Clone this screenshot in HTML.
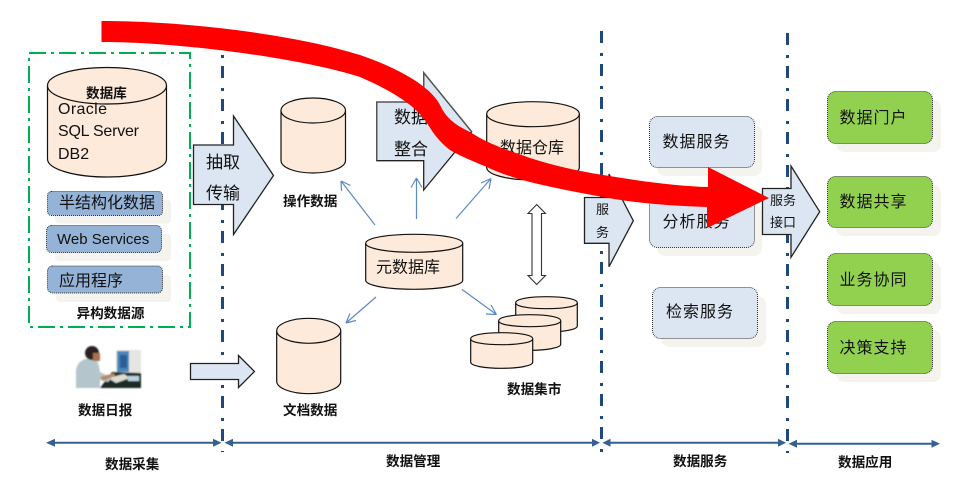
<!DOCTYPE html>
<html><head><meta charset="utf-8">
<style>
html,body{margin:0;padding:0;background:#fff;width:960px;height:481px;overflow:hidden}
svg{display:block}
text{font-family:"Liberation Sans","Noto Sans CJK SC",sans-serif;fill:#111}
.l{font-size:13.6px;font-weight:bold}
.t{font-size:16px}
.s{font-size:16px;letter-spacing:1px}
.a{font-size:17px}
.m{font-size:13px}
.cyl{fill:#fdeada;stroke:#111;stroke-width:1.2}
.arr{fill:#dce6f2;stroke:#222;stroke-width:1.3}
.sep{stroke:#1f497d;stroke-width:3;fill:none;stroke-dasharray:3 8 12 10}
.thin{stroke:#5b8ac5;stroke-width:1.2;fill:none}
.axis{stroke:#376092;stroke-width:2;fill:none}
.ah{fill:#376092}
.sh{fill:#f5f3ee}
.b{fill:#95b3d7;stroke:#333;stroke-width:1;stroke-dasharray:1 1}
.sv{fill:#dce6f2;stroke:#333;stroke-width:1;stroke-dasharray:1 1}
.g{fill:#92d050;stroke:#333;stroke-width:1;stroke-dasharray:1 1}
</style></head>
<body>
<svg width="960" height="481" viewBox="0 0 960 481" xmlns="http://www.w3.org/2000/svg">
<defs><filter id="soft" x="-5%" y="-5%" width="110%" height="110%"><feGaussianBlur stdDeviation="0.7"/></filter></defs>
<rect x="0" y="0" width="960" height="481" fill="#fff"/>

<!-- separators -->
<line class="sep" x1="222.5" y1="55" x2="222.5" y2="452"/>
<line class="sep" x1="601.5" y1="31" x2="601.5" y2="452" stroke-dashoffset="11"/>
<line class="sep" x1="787.5" y1="33" x2="787.5" y2="453" stroke-dashoffset="11"/>

<!-- green dash-dot box -->
<rect x="29" y="53" width="161" height="274" fill="none" stroke="#00b050" stroke-width="2" stroke-dasharray="17 5 3 5"/>

<!-- database cylinder -->
<path class="cyl" d="M47.5 85.5 V159 C47.5 169 74 177 107 177 C140 177 166.5 169 166.5 159 V85.5 C166.5 75 140 67.5 107 67.5 C74 67.5 47.5 75 47.5 85.5 Z"/>
<path class="cyl" d="M47.5 85.5 C47.5 96 74 104 107 104 C140 104 166.5 96 166.5 85.5"/>
<text class="l" x="86" y="98">数据库</text>
<text class="t" x="58" y="114" textLength="49">Oracle</text>
<text class="t" x="58" y="136" textLength="81">SQL Server</text>
<text class="t" x="58" y="159">DB2</text>

<!-- source boxes -->
<rect class="sh" x="55" y="199.5" width="116" height="24" rx="4"/>
<rect class="b" x="47.5" y="191.5" width="115" height="24" rx="4"/>
<text class="t" x="59" y="208">半结构化数据</text>
<rect class="sh" x="55" y="234" width="116" height="27" rx="4"/>
<rect class="b" x="46.5" y="225.5" width="115" height="27" rx="5"/>
<text x="57" y="244" style="font-size:15px">Web Services</text>
<rect class="sh" x="56" y="275" width="115" height="27" rx="4"/>
<rect class="b" x="47.5" y="266" width="115" height="27" rx="5"/>
<text class="t" x="59" y="286">应用程序</text>
<text class="l" x="76.5" y="318">异构数据源</text>

<!-- person picture -->
<g filter="url(#soft)">
<rect x="116" y="350" width="25" height="26" fill="#e6e6e0"/>
<rect x="117" y="351" width="12" height="21" fill="#4a87bb"/>
<rect x="120" y="355" width="7" height="13" fill="#2a5f96"/>
<path d="M100 388 L112 372 L141 373 V388 Z" fill="#1c2a26"/>
<path d="M108 378 L124 374 L130 378 L116 383 Z" fill="#dcdcd4"/>
<rect x="128" y="376" width="11" height="5" fill="#b9d2de"/>
<path d="M76 388 V372 C76 362 84 358 92 358 C97 358 99 364 100 372 L112 378 L108 382 L100 380 V388 Z" fill="#b4c6cc"/>
<circle cx="92" cy="353" r="7" fill="#2a2420"/>
<rect x="93" y="353" width="7" height="8" fill="#a86f4c"/>
<path d="M100 377 L114 373 L115 376 L103 381 Z" fill="#b98a68"/>
</g>
<text class="l" x="78" y="415">数据日报</text>

<!-- lower arrow -->
<path class="arr" d="M190.5 363.5 H238.5 V355.5 L254.5 371.5 L238.5 387.5 V379.5 H190.5 Z"/>

<!-- extraction arrow -->
<path class="arr" d="M193.5 145 H233.5 V116 L273.5 175.5 L233.5 234.5 V204.5 H193.5 Z"/>
<text class="a" x="206" y="168">抽取</text>
<text class="a" x="206" y="199">传输</text>

<!-- operational cylinder -->
<path class="cyl" d="M281 110.5 V160.5 C281 167.5 295 173 313 173 C331 173 345.5 167.5 345.5 160.5 V110.5 C345.5 103.5 331 98 313 98 C295 98 281 103.5 281 110.5 Z"/>
<path class="cyl" d="M281 110.5 C281 117.5 295 123 313 123 C331 123 345.5 117.5 345.5 110.5"/>
<text class="l" x="283" y="206">操作数据</text>

<!-- doc cylinder -->
<path class="cyl" d="M276.7 330.8 V381.2 C276.7 388 291 393.7 308.7 393.7 C326.5 393.7 340.7 388 340.7 381.2 V330.8 C340.7 324 326.5 318.3 308.7 318.3 C291 318.3 276.7 324 276.7 330.8 Z"/>
<path class="cyl" d="M276.7 330.8 C276.7 337.6 291 343.3 308.7 343.3 C326.5 343.3 340.7 337.6 340.7 330.8"/>
<text class="l" x="283" y="415">文档数据</text>

<!-- integration arrow -->
<path class="arr" d="M376.7 102 H423.7 V72.7 L471.7 131.7 L423.7 190 V160.7 H376.7 Z"/>
<path d="M376.7 160.7 V102 H423.7 V72.7 L471.7 131.7" fill="none" stroke="#555" stroke-width="1.3"/>
<text class="a" x="394" y="123">数据</text>
<text class="a" x="394" y="155">整合</text>

<!-- warehouse -->
<path class="cyl" d="M486.7 114 V167.5 C486.7 174.5 507 180 533 180 C559 180 579.3 174.5 579.3 167.5 V114 C579.3 107 559 101.7 533 101.7 C507 101.7 486.7 107 486.7 114 Z"/>
<path class="cyl" d="M486.7 114 C486.7 121 507 126.7 533 126.7 C559 126.7 579.3 121 579.3 114"/>
<text class="t" x="500" y="153">数据仓库</text>

<!-- meta -->
<path class="cyl" d="M365.7 243.3 V280.3 C365.7 285.5 387 289.3 414 289.3 C441 289.3 462.7 285.5 462.7 280.3 V243.3 C462.7 238 441 234.3 414 234.3 C387 234.3 365.7 238 365.7 243.3 Z"/>
<path class="cyl" d="M365.7 243.3 C365.7 248.5 387 252.3 414 252.3 C441 252.3 462.7 248.5 462.7 243.3"/>
<text class="t" x="376" y="272.5">元数据库</text>

<!-- marts -->
<path class="cyl" d="M515.7 302.7 V326 C515.7 329.5 529 332 546.5 332 C564 332 577.3 329.5 577.3 326 V302.7 C577.3 299 564 296.7 546.5 296.7 C529 296.7 515.7 299 515.7 302.7 Z"/>
<path class="cyl" d="M515.7 302.7 C515.7 306.4 529 308.7 546.5 308.7 C564 308.7 577.3 306.4 577.3 302.7"/>
<path class="cyl" d="M498.7 320.7 V344.3 C498.7 347.8 512 350.3 529.7 350.3 C547 350.3 560.7 347.8 560.7 344.3 V320.7 C560.7 317 547 314.7 529.7 314.7 C512 314.7 498.7 317 498.7 320.7 Z"/>
<path class="cyl" d="M498.7 320.7 C498.7 324.4 512 326.7 529.7 326.7 C547 326.7 560.7 324.4 560.7 320.7"/>
<path class="cyl" d="M470.7 338.7 V362.3 C470.7 365.8 484 368.3 501.7 368.3 C519 368.3 532.7 365.8 532.7 362.3 V338.7 C532.7 335 519 332.7 501.7 332.7 C484 332.7 470.7 335 470.7 338.7 Z"/>
<path class="cyl" d="M470.7 338.7 C470.7 342.4 484 344.7 501.7 344.7 C519 344.7 532.7 342.4 532.7 338.7"/>
<text class="l" x="507" y="394">数据集市</text>

<!-- thin blue arrows -->
<path class="thin" d="M375 225 L341 181 M341 181 L341.5 191 M341 181 L350.5 185.5"/>
<path class="thin" d="M416.5 219 V178 M416.5 178 L411 187.5 M416.5 178 L422 187.5"/>
<path class="thin" d="M456 218.5 L491 178.5 M491 178.5 L481 183 M491 178.5 L489 189"/>
<path class="thin" d="M376 297 L346 323 M346 323 L356 320.5 M346 323 L350 313.5"/>
<path class="thin" d="M462 289.5 L496.5 314.5 M496.5 314.5 L491 305 M496.5 314.5 L486 314"/>

<!-- double arrow -->
<path d="M536.7 204.5 L545.5 213.5 H541.5 V275.5 H545.5 L536.7 284.5 L528 275.5 H532 V213.5 H528 Z" fill="#fff" stroke="#333" stroke-width="1.1"/>

<!-- service arrow -->
<path class="arr" d="M584.5 197.5 H609 V174 L633.3 220.7 L609 266.7 V243.3 H584.5 Z"/>
<text class="m" x="596" y="214">服</text>
<text class="m" x="596" y="237">务</text>

<!-- service boxes -->
<rect class="sh" x="657" y="125" width="105" height="51" rx="8"/>
<rect class="sv" x="649.5" y="116.5" width="105" height="51" rx="8"/>
<text class="s" x="662.5" y="147">数据服务</text>
<rect class="sh" x="657" y="205" width="105" height="51" rx="8"/>
<rect class="sv" x="649.5" y="197" width="105" height="50.5" rx="8"/>
<text class="s" x="662.5" y="227">分析服务</text>
<rect class="sh" x="661" y="296" width="105" height="51" rx="8"/>
<rect class="sv" x="652.5" y="287.5" width="105" height="51" rx="8"/>
<text class="s" x="666" y="317">检索服务</text>

<!-- interface arrow -->
<path class="arr" d="M762.5 188.5 H791 V166 L819.7 211.7 L791 257.3 V234.5 H762.5 Z"/>
<text class="m" x="770" y="205">服务</text>
<text class="m" x="770" y="227">接口</text>

<!-- green boxes -->
<rect class="sh" x="836" y="100" width="105" height="52" rx="8"/>
<rect class="g" x="827.5" y="91.5" width="105" height="52" rx="8"/>
<text class="s" x="839.5" y="123">数据门户</text>
<rect class="sh" x="836" y="185" width="105" height="51" rx="8"/>
<rect class="g" x="827.5" y="176.5" width="105" height="51" rx="8"/>
<text class="s" x="839.5" y="207">数据共享</text>
<rect class="sh" x="836" y="262" width="105" height="52" rx="8"/>
<rect class="g" x="827.5" y="253.5" width="105" height="52" rx="8"/>
<text class="s" x="839.5" y="285">业务协同</text>
<rect class="sh" x="836" y="330" width="105" height="52" rx="8"/>
<rect class="g" x="827.5" y="321.5" width="105" height="52" rx="8"/>
<text class="s" x="839.5" y="353">决策支持</text>

<!-- axis arrows -->
<line class="axis" x1="50" y1="442.7" x2="218" y2="442.7"/>
<path class="ah" d="M46 442.7 L55 438.7 V446.7 Z M221.5 442.7 L213 438.7 V446.7 Z"/>
<line class="axis" x1="228" y1="442.7" x2="598" y2="442.7"/>
<path class="ah" d="M224.5 442.7 L233 438.7 V446.7 Z M600 442.7 L592 438.7 V446.7 Z"/>
<line class="axis" x1="606" y1="442.7" x2="784" y2="442.7"/>
<path class="ah" d="M602.5 442.7 L610.5 438.7 V446.7 Z M786 442.7 L778 438.7 V446.7 Z"/>
<line class="axis" x1="792" y1="443.7" x2="936" y2="443.7"/>
<path class="ah" d="M788.5 443.7 L797 439.7 V447.7 Z M940 443.7 L931.5 439.7 V447.7 Z"/>

<text class="l" x="105" y="469">数据采集</text>
<text class="l" x="386" y="466">数据管理</text>
<text class="l" x="673" y="466">数据服务</text>
<text class="l" x="838" y="467">数据应用</text>

<!-- big red arrow -->
<path fill="#ff0000" d="M101.5 21 C180 21 290 33 360 55 C395 67 430 85 440 105 C446 118 455 125 470 132 C490 145 510 151 530 158 C555 166 578 171 603 175 C640 181 675 186 708 187 V167 L769 198 L707 228 V207 C670 206 635 203 603 197 C575 192 550 187 530 182 C510 177 495 171 487 167 C470 160 458 155 450 150 C438 141 432 131 427 123 C418 108 395 92 360 77 C300 58 180 42 101.5 42 Z"/>
</svg>
</body></html>
